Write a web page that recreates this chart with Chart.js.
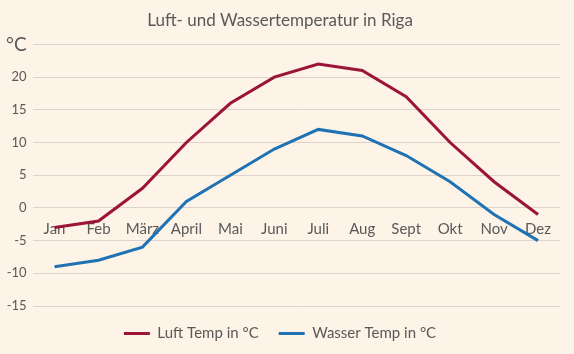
<html>
<head>
<meta charset="utf-8">
<script src="https://cdn.jsdelivr.net/npm/chart.js@4.4.1/dist/chart.umd.min.js"></script>
<style>
  body { margin: 0; background: #fdf3e7; }
  #wrap { width: 574px; height: 354px; }
</style>
</head>
<body>
<div id="wrap"><canvas id="rigaChart"></canvas></div>
<script>
  // monthly values
  var months = ["Jan", "Feb", "März", "April", "Mai", "Juni", "Juli", "Aug", "Sept", "Okt", "Nov", "Dez"];
  var luftTemp = [-3, -2, 3, 10, 16, 20, 22, 21, 17, 10, 4, -1];
  var wasserTemp = [-9, -8, -6, 1, 5, 9, 12, 11, 8, 4, -1, -5];
  var yMin = -15, yMax = 25, yStep = 5;

  var textColor = "#595959";
  var fontName = "Lato, 'Open Sans', sans-serif";

  var ctx = document.getElementById("rigaChart");
  var rigaChart = new Chart(ctx, {
    type: "line",
    data: {
      labels: months,
      datasets: [
        {
          label: "Luft Temp in °C",
          data: luftTemp,
          borderColor: "#9a1538",
          backgroundColor: "#9a1538",
          borderWidth: 3,
          pointRadius: 0,
          tension: 0,
          fill: false
        },
        {
          label: "Wasser Temp in °C",
          data: wasserTemp,
          borderColor: "#1f73b5",
          backgroundColor: "#1f73b5",
          borderWidth: 3,
          pointRadius: 0,
          tension: 0,
          fill: false
        }
      ]
    },
    options: {
      responsive: true,
      maintainAspectRatio: false,
      animation: false,
      layout: { padding: { left: 0, right: 14, top: 6, bottom: 3 } },
      plugins: {
        title: {
          display: true,
          text: "Luft- und Wassertemperatur in Riga",
          color: textColor,
          font: { family: fontName, size: 17, weight: "normal" },
          padding: { top: 4, bottom: 14 }
        },
        legend: {
          position: "bottom",
          labels: {
            color: textColor,
            font: { family: fontName, size: 15 },
            boxWidth: 26,
            boxHeight: 3,
            padding: 20,
            generateLabels: function(chart) {
              return chart.data.datasets.map(function(ds, i) {
                return {
                  text: ds.label,
                  fillStyle: ds.borderColor,
                  strokeStyle: ds.borderColor,
                  lineWidth: 0,
                  datasetIndex: i,
                  fontColor: textColor
                };
              });
            }
          }
        },
        tooltip: { enabled: false }
      },
      scales: {
        x: {
          position: { y: 0 },
          offset: true,
          grid: { display: false },
          border: { display: false },
          ticks: {
            color: textColor,
            font: { family: fontName, size: 15 },
            padding: 4,
            maxRotation: 0,
            autoSkip: false
          }
        },
        y: {
          min: yMin,
          max: yMax,
          grid: { color: "#dcd3d0", lineWidth: 1, drawTicks: false, offset: false },
          border: { display: false },
          ticks: {
            stepSize: yStep,
            color: textColor,
            padding: 6,
            font: function(c) {
              if (c.tick && c.tick.value === yMax) return { family: fontName, size: 19 };
              return { family: fontName, size: 13 };
            },
            callback: function(v) {
              return v === yMax ? "°C" : v;
            }
          }
        }
      }
    }
  });
</script>
</body>
</html>
